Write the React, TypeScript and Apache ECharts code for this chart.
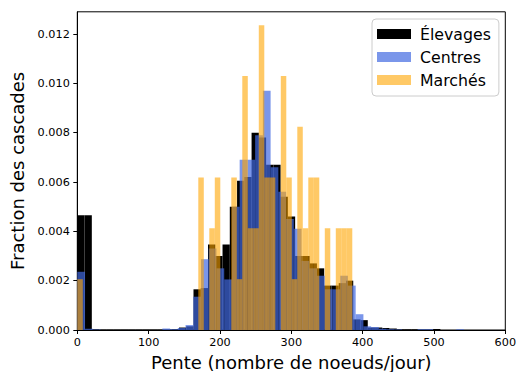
import { useEffect, useRef } from "react";
import * as echarts from "echarts";

const seriesNames = ["Élevages", "Centres", "Marchés"];
const seriesColors = ["#000000", "rgba(65,105,225,0.7)", "rgba(255,165,0,0.6)"];

// data ranges of each histogram (50 bins each)
const elevagesRange = [0, 509];
const centresRange = [0, 542];
const marchesRange = [0, 385.5];

const elevages = [
  0.00465, 0.00465, 0.00003, 0.00002, 0.00002, 0.00002, 0.00002, 0.00002, 0.00002, 0.00002,
  0.00002, 0.00002, 0.00002, 0.00003, 0.0001, 0.00015, 0.00165, 0.0017, 0.00347, 0.003,
  0.00347, 0.005, 0.00605, 0.0062, 0.008, 0.0078, 0.0067, 0.0067, 0.0054, 0.0046,
  0.003, 0.003, 0.0027, 0.0025, 0.0018, 0.0018, 0.0019, 0.002, 0.00043, 0.0004,
  0.0001, 0.0001, 0.00008, 0.00006, 0.00003, 0.00003, 0.00003, 0.00002, 0.00002, 0.00004,
];

const centres = [
  0.00236, 0.00005, 0.00002, 0, 0, 0, 0, 0, 0, 0,
  0, 0.00006, 0.00003, 0.00008, 0.0002, 0.00135, 0.00287, 0.0033, 0.0025, 0.00205,
  0.005, 0.0069, 0.0069, 0.0079, 0.0097, 0.0066, 0.0056, 0.0045, 0.0041, 0.0028,
  0.0025, 0.0022, 0.00165, 0.00165, 0.0022, 0.0018, 0.00064, 0.00015, 0.00012, 0.00005,
  0.00003, 0.00002, 0, 0, 0.00003, 0.00003, 0, 0, 0, 0.00003,
];

const marches = [
  0.00206, 0, 0, 0, 0, 0, 0, 0, 0, 0,
  0, 0, 0, 0, 0, 0, 0, 0, 0, 0,
  0, 0, 0.00618, 0, 0.00412, 0.00618, 0, 0, 0.00618, 0.00206,
  0.0103, 0.00412, 0.00412, 0.01235, 0.00618, 0.00618, 0, 0.0103, 0.00618, 0.00206,
  0.00824, 0.00412, 0.00618, 0.00618, 0, 0.00412, 0, 0.00412, 0.00412, 0.00412,
];

const xTicks = [0, 100, 200, 300, 400, 500, 600];
const yTicks = [0, 0.002, 0.004, 0.006, 0.008, 0.01, 0.012];

function toBins(range: number[], heights: number[]) {
  const w = (range[1] - range[0]) / heights.length;
  return heights.map((h, i) => [range[0] + i * w, range[0] + (i + 1) * w, h]);
}

const FONT = "DejaVu Sans";

export default function App() {
  const ref = useRef<HTMLDivElement>(null);
  useEffect(() => {
    if (!ref.current) return;
    const chart = echarts.init(ref.current, null, { renderer: "svg" });
    const datasets = [toBins(elevagesRange, elevages), toBins(centresRange, centres), toBins(marchesRange, marches)];
    const series = datasets.map((d, si) => ({
      type: "custom",
      name: seriesNames[si],
      data: d,
      encode: { x: [0, 1], y: 2 },
      itemStyle: { color: seriesColors[si] },
      clip: true,
      z: 2 + si,
      renderItem: (params: any, api: any) => {
        const h = api.value(2);
        if (!h) return null;
        const p0 = api.coord([api.value(0), h]);
        const p1 = api.coord([api.value(1), 0]);
        return {
          type: "rect",
          shape: { x: p0[0], y: p0[1], width: p1[0] - p0[0], height: p1[1] - p0[1] },
          style: { fill: seriesColors[si] },
        };
      },
    }));
    chart.setOption({
      animation: false,
      backgroundColor: "#ffffff",
      textStyle: { fontFamily: FONT },
      grid: {
        left: 77.3,
        top: 11.8,
        right: 11.7,
        bottom: 42,
        outerBoundsMode: "none",
        containLabel: false,
        show: true,
        borderColor: "#000",
        borderWidth: 1,
        backgroundColor: "transparent",
      },
      legend: {
        orient: "vertical",
        left: 372,
        top: 19,
        icon: "rect",
        itemWidth: 34,
        itemHeight: 10,
        itemGap: 7,
        padding: [7, 8, 8, 5],
        backgroundColor: "rgba(255,255,255,0.8)",
        borderColor: "#cccccc",
        borderWidth: 1,
        borderRadius: 4,
        selectedMode: false,
        textStyle: { fontFamily: FONT, fontSize: 15.75, color: "#000", padding: [0, 0, 0, 4] },
        data: seriesNames,
      },
      xAxis: {
        type: "value",
        min: 0,
        max: 600,
        interval: 100,
        name: "Pente (nombre de noeuds/jour)",
        nameLocation: "middle",
        nameGap: 23.5,
        nameTextStyle: { fontFamily: FONT, fontSize: 18, color: "#000" },
        axisLine: { show: true, lineStyle: { color: "#000", width: 1 } },
        axisTick: { show: true, length: 4, lineStyle: { color: "#000" } },
        axisLabel: {
          fontFamily: FONT,
          fontSize: 11.25,
          color: "#000",
          margin: 7,
          customValues: xTicks,
        },
        splitLine: { show: false },
      },
      yAxis: {
        type: "value",
        min: 0,
        max: 0.0129,
        name: "Fraction des cascades",
        nameLocation: "middle",
        nameRotate: 90,
        nameGap: 44,
        nameTextStyle: { fontFamily: FONT, fontSize: 18, color: "#000" },
        axisLine: { show: true, lineStyle: { color: "#000", width: 1 } },
        axisTick: { show: true, length: 4, lineStyle: { color: "#000" }, customValues: yTicks },
        axisLabel: {
          fontFamily: FONT,
          fontSize: 11.25,
          color: "#000",
          margin: 7.5,
          customValues: yTicks,
          formatter: (v: number) => v.toFixed(3),
        },
        splitLine: { show: false },
      },
      series,
    });
    return () => chart.dispose();
  }, []);
  return (
    <div
      ref={ref}
      style={{ position: "absolute", left: 0, top: 0, width: 517, height: 372, background: "#fff" }}
    />
  );
}
